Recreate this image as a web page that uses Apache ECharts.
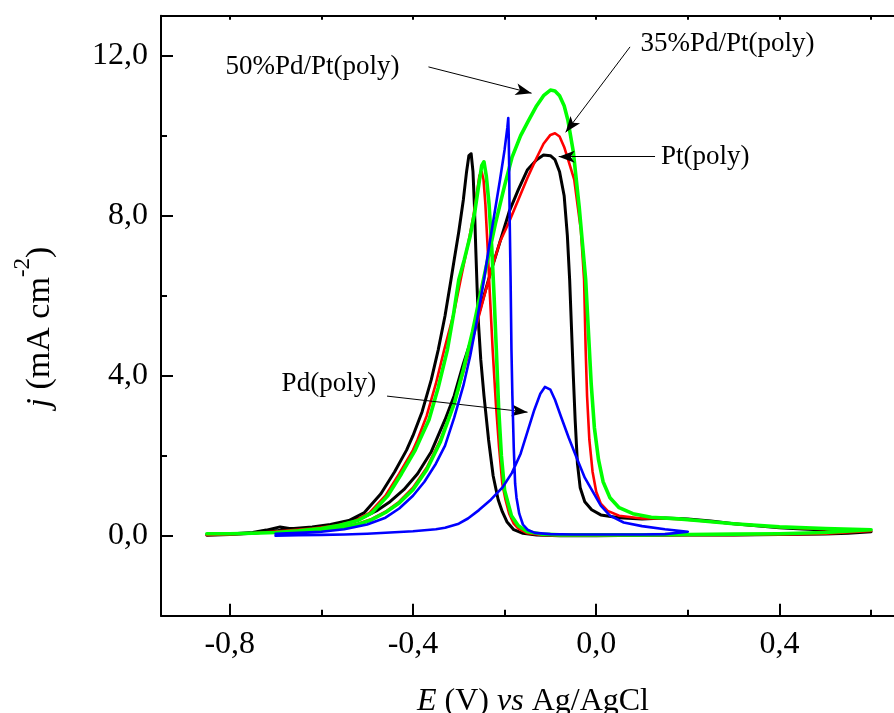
<!DOCTYPE html>
<html>
<head>
<meta charset="utf-8">
<script src="https://cdn.jsdelivr.net/npm/echarts@6/dist/echarts.min.js"></script>
<style>
html,body{margin:0;padding:0;background:#fff;}
#chart{width:894px;height:713px;}
</style>
</head>
<body>
<div id="chart"></div>
<script>
// ---------- tick values ----------
const xMajorTicks = [-0.8, -0.4, 0.0, 0.4];
const xMinorTicks = [-0.6, -0.2, 0.2, 0.6];
const yMajorTicks = [0, 4, 8, 12];
const yMinorTicks = [2, 6, 10];

// ---------- series names ----------
const seriesNames = ['Pt(poly)', '35%Pd/Pt(poly)', '50%Pd/Pt(poly)', 'Pd(poly)'];

// ---------- Pt(poly) (black) ----------
const ptForward = [
[-0.85,0.02],[-0.80,0.04],[-0.75,0.08],[-0.72,0.14],[-0.69,0.22],[-0.67,0.18],[-0.64,0.18],[-0.60,0.24],
[-0.57,0.28],[-0.54,0.34],[-0.51,0.45],[-0.48,0.62],[-0.45,0.85],[-0.42,1.15],[-0.39,1.55],[-0.36,2.1],
[-0.33,2.9],[-0.31,3.5],[-0.29,4.3],[-0.27,5.0],[-0.25,5.8],[-0.23,6.6],[-0.21,7.35],[-0.19,8.1],
[-0.17,8.65],[-0.15,9.15],[-0.13,9.4],[-0.115,9.52],[-0.10,9.5],[-0.09,9.4],[-0.08,9.1],[-0.07,8.5],
[-0.063,7.5],[-0.058,6.4],[-0.054,5.2],[-0.05,4.0],[-0.046,2.9],[-0.041,1.8],[-0.035,1.2],[-0.025,0.85],
[-0.01,0.65],[0.01,0.52],[0.05,0.45],[0.10,0.42],[0.15,0.44],[0.20,0.42],[0.25,0.37],[0.30,0.30],
[0.35,0.25],[0.40,0.20],[0.45,0.17],[0.50,0.14],[0.55,0.12],[0.60,0.10]
];
const ptReverse = [
[0.60,0.10],[0.55,0.06],[0.50,0.04],[0.40,0.03],[0.30,0.02],[0.20,0.02],[0.10,0.01],[0.00,0.00],
[-0.08,0.00],[-0.13,0.02],[-0.16,0.06],[-0.18,0.15],[-0.195,0.35],[-0.205,0.60],[-0.214,0.90],[-0.225,1.5],
[-0.235,2.4],[-0.245,3.5],[-0.252,4.4],[-0.257,5.3],[-0.260,6.2],[-0.263,7.2],[-0.266,8.3],[-0.269,9.1],
[-0.273,9.55],[-0.278,9.5],[-0.283,9.1],[-0.29,8.4],[-0.30,7.6],[-0.31,6.9],[-0.317,6.4],[-0.33,5.5],
[-0.345,4.64],[-0.36,3.9],[-0.38,3.1],[-0.40,2.5],[-0.414,2.14],[-0.44,1.6],[-0.47,1.05],[-0.507,0.57],
[-0.54,0.38],[-0.58,0.28],[-0.62,0.22],[-0.66,0.18],[-0.70,0.12],[-0.75,0.06],[-0.80,0.03],[-0.85,0.01]
];

// ---------- 35%Pd/Pt(poly) (red) ----------
const pd35Forward = [
[-0.85,0.02],[-0.80,0.03],[-0.75,0.06],[-0.70,0.10],[-0.65,0.12],[-0.60,0.15],[-0.55,0.22],[-0.52,0.30],
[-0.49,0.42],[-0.46,0.60],[-0.43,0.85],[-0.40,1.2],[-0.37,1.7],[-0.34,2.4],[-0.31,3.3],[-0.29,4.1],
[-0.27,4.9],[-0.25,5.75],[-0.23,6.6],[-0.21,7.35],[-0.19,7.85],[-0.17,8.4],[-0.15,8.95],[-0.13,9.45],
[-0.115,9.8],[-0.10,10.02],[-0.09,10.06],[-0.08,9.98],[-0.07,9.72],[-0.06,9.35],[-0.048,8.9],[-0.04,8.2],
[-0.0335,7.64],[-0.0265,6.4],[-0.023,4.64],[-0.02,3.5],[-0.015,2.4],[-0.008,1.6],[0.0,1.1],[0.01,0.8],
[0.025,0.62],[0.05,0.5],[0.10,0.43],[0.15,0.43],[0.20,0.40],[0.25,0.35],[0.30,0.30],[0.40,0.21],
[0.50,0.16],[0.60,0.12]
];
const pd35Reverse = [
[0.60,0.12],[0.50,0.05],[0.40,0.03],[0.30,0.02],[0.20,0.02],[0.10,0.01],[0.00,0.00],[-0.08,0.00],
[-0.12,0.02],[-0.15,0.06],[-0.17,0.18],[-0.18,0.30],[-0.19,0.55],[-0.198,0.90],[-0.205,1.3],[-0.212,2.2],
[-0.219,3.3],[-0.226,4.64],[-0.232,6.0],[-0.237,7.2],[-0.242,8.3],[-0.246,8.9],[-0.25,9.1],[-0.255,9.0],
[-0.26,8.6],[-0.268,8.0],[-0.277,7.45],[-0.287,6.9],[-0.296,6.4],[-0.31,5.6],[-0.332,4.64],[-0.35,3.8],
[-0.37,3.0],[-0.39,2.4],[-0.40,2.14],[-0.43,1.55],[-0.46,1.0],[-0.495,0.57],[-0.53,0.35],[-0.57,0.25],
[-0.62,0.18],[-0.68,0.12],[-0.75,0.06],[-0.85,0.02]
];

// ---------- 50%Pd/Pt(poly) (green) ----------
const pd50Forward = [
[-0.85,0.05],[-0.80,0.05],[-0.75,0.06],[-0.70,0.08],[-0.65,0.10],[-0.60,0.13],[-0.55,0.20],[-0.52,0.28],
[-0.49,0.40],[-0.46,0.58],[-0.43,0.82],[-0.40,1.15],[-0.37,1.65],[-0.34,2.35],[-0.31,3.3],[-0.29,4.15],
[-0.27,5.1],[-0.25,6.2],[-0.235,7.0],[-0.22,7.8],[-0.20,8.75],[-0.184,9.45],[-0.165,10.0],[-0.149,10.35],
[-0.13,10.75],[-0.115,11.0],[-0.10,11.14],[-0.09,11.12],[-0.08,11.0],[-0.07,10.75],[-0.062,10.4],[-0.05,9.6],
[-0.037,8.2],[-0.03,7.3],[-0.023,6.4],[-0.017,5.1],[-0.011,3.8],[-0.004,2.7],[0.005,1.9],[0.015,1.35],
[0.03,0.95],[0.05,0.7],[0.08,0.55],[0.12,0.46],[0.18,0.42],[0.22,0.38],[0.30,0.30],[0.40,0.22],
[0.50,0.18],[0.60,0.15]
];
const pd50Reverse = [
[0.60,0.15],[0.50,0.08],[0.40,0.05],[0.30,0.04],[0.20,0.03],[0.10,0.02],[0.00,0.02],[-0.08,0.02],
[-0.12,0.04],[-0.15,0.10],[-0.17,0.25],[-0.185,0.50],[-0.20,1.14],[-0.207,2.0],[-0.213,3.2],[-0.218,4.64],
[-0.223,6.0],[-0.228,7.2],[-0.234,8.3],[-0.24,9.0],[-0.245,9.35],[-0.25,9.25],[-0.256,8.8],[-0.265,8.1],
[-0.275,7.5],[-0.288,6.9],[-0.30,6.4],[-0.312,5.5],[-0.325,4.64],[-0.345,3.7],[-0.365,2.9],[-0.385,2.4],
[-0.395,2.14],[-0.425,1.55],[-0.455,1.0],[-0.49,0.57],[-0.52,0.38],[-0.56,0.26],[-0.60,0.18],[-0.65,0.12],
[-0.70,0.08],[-0.75,0.06],[-0.80,0.05],[-0.85,0.05]
];

// ---------- Pd(poly) (blue) ----------
const pdForward = [
[-0.70,0.00],[-0.65,0.01],[-0.60,0.02],[-0.55,0.03],[-0.50,0.05],[-0.45,0.08],[-0.40,0.11],[-0.35,0.16],
[-0.33,0.20],[-0.30,0.30],[-0.28,0.43],[-0.256,0.64],[-0.23,0.90],[-0.205,1.2],[-0.184,1.57],[-0.165,2.05],
[-0.149,2.64],[-0.135,3.15],[-0.122,3.55],[-0.112,3.72],[-0.10,3.65],[-0.09,3.4],[-0.077,2.98],[-0.06,2.45],
[-0.041,1.9],[-0.025,1.45],[-0.005,1.05],[0.01,0.75],[0.03,0.5],[0.06,0.33],[0.10,0.24],[0.15,0.16],[0.20,0.10]
];
const pdReverse = [
[0.20,0.06],[0.15,0.04],[0.10,0.03],[0.05,0.03],[0.00,0.03],[-0.05,0.03],[-0.10,0.04],[-0.134,0.07],
[-0.15,0.15],[-0.16,0.28],[-0.168,0.55],[-0.174,0.95],[-0.177,1.3],[-0.18,2.2],[-0.183,3.5],[-0.185,4.64],
[-0.187,6.5],[-0.189,8.0],[-0.19,9.2],[-0.191,10.0],[-0.192,10.44],[-0.194,10.2],[-0.20,9.65],[-0.21,8.9],
[-0.22,8.2],[-0.233,7.3],[-0.245,6.4],[-0.26,5.4],[-0.275,4.5],[-0.29,3.75],[-0.31,2.95],[-0.33,2.25],
[-0.35,1.8],[-0.375,1.35],[-0.40,1.0],[-0.43,0.68],[-0.46,0.45],[-0.50,0.28],[-0.55,0.16],[-0.60,0.10],
[-0.65,0.07],[-0.70,0.05]
];

// ---------- annotations (data coords) ----------
const annotationTexts = ['50%Pd/Pt(poly)', '35%Pd/Pt(poly)', 'Pt(poly)', 'Pd(poly)'];
const annotationAnchors = [[-0.8092, 11.715], [0.0965, 12.30], [0.1413, 9.4675], [-0.6867, 3.79]];
const arrowStarts = [[-0.3662, 11.72], [0.0738, 12.22], [0.1284, 9.48], [-0.4566, 3.49]];
const arrowEnds = [[-0.1411, 11.063], [-0.0667, 10.085], [-0.0819, 9.475], [-0.1499, 3.088]];

// ---------- build chart ----------
const FONT = '"Liberation Serif", "Times New Roman", serif';
const X_MIN = -0.95, X_MAX = 0.65, Y_MIN = -2, Y_MAX = 13;
const fmt = v => Number(v).toFixed(1).replace('.', ',');

const chart = echarts.init(document.getElementById('chart'), null, {renderer: 'canvas'});

function xAxisBase(extra) {
  return Object.assign({
    type: 'value', min: X_MIN, max: X_MAX, splitLine: {show: false},
    axisLine: {show: false, onZero: false, lineStyle: {color: '#000', width: 2}}
  }, extra);
}
function yAxisBase(extra) {
  return Object.assign({
    type: 'value', min: Y_MIN, max: Y_MAX, splitLine: {show: false},
    axisLine: {show: false, onZero: false, lineStyle: {color: '#000', width: 2}}
  }, extra);
}

const colors = ['#000000', '#ff0000', '#00ff00', '#0000ff'];
const widths = [3, 2.6, 3.6, 2.6];
const curves = [
  ptForward.concat(ptReverse),
  pd35Forward.concat(pd35Reverse),
  pd50Forward.concat(pd50Reverse),
  pdForward.concat(pdReverse)
];

const series = curves.map((d, i) => ({
  name: seriesNames[i], type: 'line', data: d, xAxisIndex: 0, yAxisIndex: 0,
  showSymbol: false, symbol: 'none', smooth: false, silent: true, animation: false,
  lineStyle: {color: colors[i], width: widths[i], join: 'round', cap: 'round'},
  z: 2 + i
}));

series.push({
  type: 'line', data: [], xAxisIndex: 0, yAxisIndex: 0, silent: true, animation: false,
  markLine: {
    silent: true, animation: false,
    symbol: ['none', 'arrow'], symbolSize: [9, 16],
    label: {show: false},
    lineStyle: {color: '#000', width: 1, type: 'solid'},
    emphasis: {disabled: true},
    data: arrowStarts.map((s, i) => [{coord: s}, {coord: arrowEnds[i]}])
  },
  z: 10
});

const option = {
  backgroundColor: '#fff',
  animation: false,
  grid: {left: 161, top: 15.7, width: 744, height: 600, containLabel: false},
  xAxis: [
    xAxisBase({
      position: 'bottom',
      axisLine: {show: true, onZero: false, lineStyle: {color: '#000', width: 2}},
      axisTick: {show: true, inside: true, length: 12, customValues: xMajorTicks, lineStyle: {color: '#000', width: 2}},
      axisLabel: {show: true, customValues: xMajorTicks, formatter: fmt, fontSize: 32, fontFamily: FONT, color: '#000', margin: 13}
    }),
    xAxisBase({
      position: 'bottom',
      axisTick: {show: true, inside: true, length: 6, customValues: xMinorTicks, lineStyle: {color: '#000', width: 2}},
      axisLabel: {show: false, customValues: xMinorTicks}
    }),
    xAxisBase({
      position: 'top',
      axisLine: {show: true, onZero: false, lineStyle: {color: '#000', width: 2}},
      axisTick: {show: true, inside: true, length: 4, customValues: xMajorTicks.concat(xMinorTicks), lineStyle: {color: '#000', width: 2}},
      axisLabel: {show: false, customValues: xMajorTicks.concat(xMinorTicks)}
    })
  ],
  yAxis: [
    yAxisBase({
      position: 'left',
      axisLine: {show: true, onZero: false, lineStyle: {color: '#000', width: 2}},
      axisTick: {show: true, inside: true, length: 12, customValues: yMajorTicks, lineStyle: {color: '#000', width: 2}},
      axisLabel: {show: true, customValues: yMajorTicks, formatter: fmt, fontSize: 32, fontFamily: FONT, color: '#000', margin: 13}
    }),
    yAxisBase({
      position: 'left',
      axisTick: {show: true, inside: true, length: 6, customValues: yMinorTicks, lineStyle: {color: '#000', width: 2}},
      axisLabel: {show: false, customValues: yMinorTicks}
    })
  ],
  series: series
};
chart.setOption(option);

// ---------- texts (titles and annotation labels) ----------
const ctx = document.createElement('canvas').getContext('2d');
function measure(t, size, italic) {
  ctx.font = (italic ? 'italic ' : '') + size + 'px "Liberation Serif"';
  return ctx.measureText(t).width;
}
function textRow(parts, x, y, rotation, anchor) {
  const ws = parts.map(p => measure(p.t, p.size, p.italic));
  const total = ws.reduce((a, b) => a + b, 0);
  let off = anchor === 'center' ? -total / 2 : 0;
  const children = parts.map((p, i) => {
    const el = {
      type: 'text', x: off, y: p.dy || 0, silent: true,
      style: {
        text: p.t, fill: '#000', fontSize: p.size, fontFamily: FONT,
        fontStyle: p.italic ? 'italic' : 'normal',
        align: 'left', verticalAlign: 'middle', textAlign: 'left', textVerticalAlign: 'middle'
      }
    };
    off += ws[i];
    return el;
  });
  return {type: 'group', x: x, y: y, rotation: rotation || 0, children: children, silent: true};
}

const graphics = [];
// x axis title
graphics.push(textRow([
  {t: 'E', size: 32, italic: true},
  {t: ' (V) ', size: 32},
  {t: 'vs', size: 32, italic: true},
  {t: ' Ag/AgCl', size: 32}
], 533, 701.5, 0, 'center'));
// y axis title
graphics.push(textRow([
  {t: 'j', size: 34, italic: true},
  {t: ' (mA cm', size: 34},
  {t: '-2', size: 23, dy: -17},
  {t: ')', size: 34}
], 40, 327, Math.PI / 2, 'center'));
// annotation labels
annotationTexts.forEach((t, i) => {
  const p = chart.convertToPixel({xAxisIndex: 0, yAxisIndex: 0}, annotationAnchors[i]);
  graphics.push(textRow([{t: t, size: 27}], p[0], p[1], 0, 'left'));
});
chart.setOption({graphic: graphics});
</script>
</body>
</html>
